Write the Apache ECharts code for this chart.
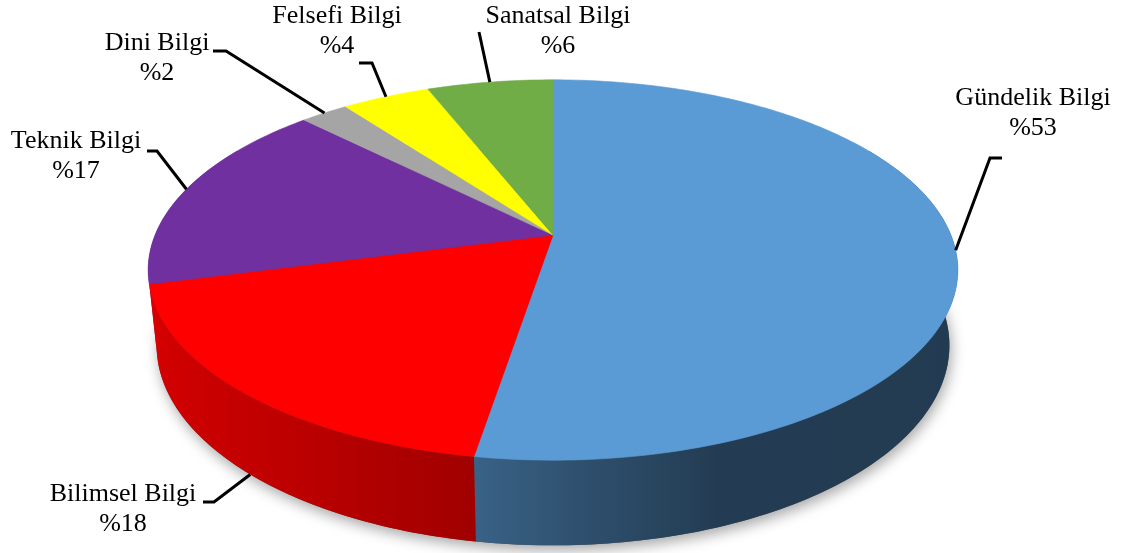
<!DOCTYPE html>
<html>
<head>
<meta charset="utf-8">
<script src="https://cdn.jsdelivr.net/npm/echarts@6/dist/echarts.min.js"></script>
<style>
html, body { margin: 0; padding: 0; background: #fff; }
#main { width: 1124px; height: 553px; }
</style>
</head>
<body>
<div id="main"></div>
<script>
// veriler
var names = ['Gündelik Bilgi', 'Bilimsel Bilgi', 'Teknik Bilgi', 'Dini Bilgi', 'Felsefi Bilgi', 'Sanatsal Bilgi'];
var shares = [52.6, 18.3, 16.6, 2.3, 4.2, 6.0];
var colors = ['#5B9BD5', '#FF0000', '#7030A0', '#A5A5A5', '#FFFF00', '#70AD47'];

// etiket kutusu merkezleri ve kılavuz çizgisi kırılma noktaları (px)
var labelPos = [[1033, 113], [123, 509], [76, 156], [157, 58], [337, 31], [558, 31]];
var leaderPts = [
    [[990, 158], [1002, 158]],
    [[214, 502], [203, 502]],
    [[157, 151], [147, 151]],
    [[226, 51], [213, 51]],
    [[372, 63], [359, 63]],
    [[479, 32]]
];

var starts = [];
shares.reduce(function (acc, v) { starts.push(acc); return acc + v; }, 0);

// basit perspektif izdüşümü (3B pasta)
var cx = 553, cy = 235;
var F = 1918, D = 4.82, phi = 27.5 * Math.PI / 180, H = 0.215;
function proj3(X, Z, y) {
    var yc = y * Math.cos(phi) + Z * Math.sin(phi);
    var zc = D + Z * Math.cos(phi) - y * Math.sin(phi);
    return [cx + F * X / zc, cy - F * yc / zc];
}
function proj(t, y) {
    var a = t * Math.PI / 180;
    return proj3(Math.sin(a), Math.cos(a), y);
}

// yan yüzey gölgelendirme
var shadeTable = [[90, 0.38], [160, 0.39], [175, 0.5], [189, 0.63], [215, 0.75], [260, 0.87], [300, 0.87]];
function shadeAt(t) {
    if (t <= shadeTable[0][0]) return shadeTable[0][1];
    for (var k = 1; k < shadeTable.length; k++) {
        if (t <= shadeTable[k][0]) {
            var p = shadeTable[k - 1], q = shadeTable[k];
            return p[1] + (q[1] - p[1]) * (t - p[0]) / (q[0] - p[0]);
        }
    }
    return shadeTable[shadeTable.length - 1][1];
}
function shadeColor(hex, f) {
    var r = parseInt(hex.substr(1, 2), 16), g = parseInt(hex.substr(3, 2), 16), b = parseInt(hex.substr(5, 2), 16);
    return 'rgb(' + Math.round(r * f) + ',' + Math.round(g * f) + ',' + Math.round(b * f) + ')';
}

function arc(t0, t1, y) {
    var pts = [];
    var n = Math.max(2, Math.ceil(Math.abs(t1 - t0)));
    for (var k = 0; k <= n; k++) pts.push(proj(t0 + (t1 - t0) * k / n, y));
    return pts;
}

function renderItem(params, api) {
    var i = params.dataIndex;
    var v = api.value(0);
    var t0 = starts[i] * 3.6, t1 = (starts[i] + v) * 3.6;
    var children = [];

    if (i === 0) {
        // gölge için taban elipsi
        children.push({
            type: 'polygon', z2: 0,
            shape: { points: arc(0, 360, -H) },
            style: { fill: '#555', shadowBlur: 14, shadowOffsetY: 5, shadowOffsetX: 2, shadowColor: 'rgba(0,0,0,0.35)' }
        });
    }

    // yan yüzey
    var w0 = Math.max(t0, 60), w1 = Math.min(t1, 300);
    if (w1 > w0) {
        var top = arc(w0, w1, 0), bot = arc(w1, w0, -H);
        var pts = top.concat(bot);
        var xs = pts.map(function (p) { return p[0]; });
        var xmin = Math.min.apply(null, xs), xmax = Math.max.apply(null, xs);
        var a0 = Math.max(w0, 101), a1 = Math.min(w1, 259);
        var stops = [];
        if (a1 > a0) {
            for (var k = 0; k <= 12; k++) {
                var t = a0 + (a1 - a0) * k / 12;
                var x = proj(t, 0)[0];
                stops.push({ offset: Math.min(1, Math.max(0, (x - xmin) / (xmax - xmin))), color: shadeColor(colors[i], shadeAt(t)) });
            }
            stops.sort(function (p, q) { return p.offset - q.offset; });
        } else {
            stops = [{ offset: 0, color: shadeColor(colors[i], 0.6) }, { offset: 1, color: shadeColor(colors[i], 0.6) }];
        }
        var mid = (w0 + w1) / 2 * Math.PI / 180;
        children.push({
            type: 'polygon', z2: 10 - Math.cos(mid) * 5,
            shape: { points: pts },
            style: { fill: new echarts.graphic.LinearGradient(xmin, 0, xmax, 0, stops, true) }
        });
    }

    // üst yüzey
    children.push({
        type: 'polygon', z2: 50,
        shape: { points: [proj3(0, 0, 0)].concat(arc(t0, t1, 0)) },
        style: { fill: colors[i], stroke: colors[i], lineWidth: 0.6 }
    });

    // kılavuz çizgisi
    var tm = (t0 + t1) / 2;
    var anchor = Math.cos(tm * Math.PI / 180) < -0.5 ? proj(tm, -H) : proj(tm, 0);
    children.push({
        type: 'polyline', z2: 60,
        shape: { points: [anchor].concat(leaderPts[i]) },
        style: { stroke: '#000', lineWidth: 3, fill: null }
    });

    // etiket
    children.push({
        type: 'text', z2: 70,
        style: {
            text: names[i] + '\n%' + Math.round(v),
            x: labelPos[i][0], y: labelPos[i][1],
            align: 'center', verticalAlign: 'middle',
            fontFamily: '"Liberation Serif", "Times New Roman", serif',
            fontSize: 26, lineHeight: 30, fill: '#000'
        }
    });

    return { type: 'group', children: children };
}

var chart = echarts.init(document.getElementById('main'));
var option = {
    backgroundColor: '#fff',
    animation: false,
    series: [{
        type: 'custom',
        coordinateSystem: 'none',
        renderItem: renderItem,
        data: shares.map(function (v, i) { return { value: v, name: names[i] }; })
    }]
};
chart.setOption(option);
</script>
</body>
</html>
